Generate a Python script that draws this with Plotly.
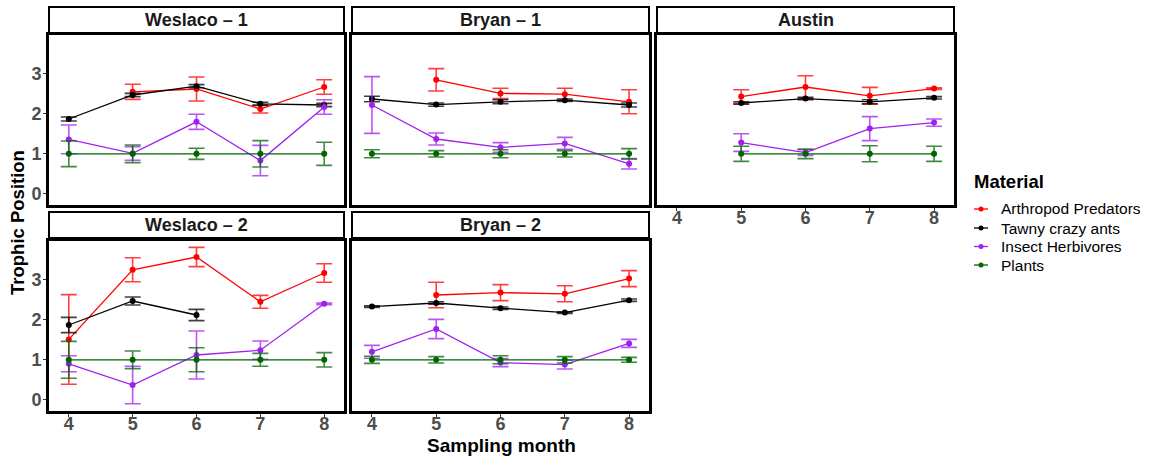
import plotly.graph_objects as go

# ---- data -----------------------------------------------------------------
months = [4, 5, 6, 7, 8]
sites = ["Weslaco – 1", "Bryan – 1", "Austin", "Weslaco – 2", "Bryan – 2"]
materials = ["Arthropod Predators", "Tawny crazy ants", "Insect Herbivores", "Plants"]

# trophic position means per site / material (None = not sampled)
predators_mean = {
    "Weslaco – 1": [None, 2.55, 2.62, 2.12, 2.67],
    "Bryan – 1":   [None, 2.85, 2.51, 2.49, 2.30],
    "Austin":      [None, 2.43, 2.67, 2.45, 2.63],
    "Weslaco – 2": [1.51, 3.25, 3.57, 2.45, 3.17],
    "Bryan – 2":   [None, 2.62, 2.68, 2.65, 3.03],
}
predators_err = {
    "Weslaco – 1": [None, 0.19, 0.30, 0.10, 0.18],
    "Bryan – 1":   [None, 0.28, 0.13, 0.15, 0.30],
    "Austin":      [None, 0.17, 0.28, 0.21, 0.02],
    "Weslaco – 2": [1.12, 0.30, 0.24, 0.16, 0.23],
    "Bryan – 2":   [None, 0.32, 0.20, 0.20, 0.20],
}
ants_mean = {
    "Weslaco – 1": [1.87, 2.47, 2.69, 2.25, 2.22],
    "Bryan – 1":   [2.37, 2.23, 2.30, 2.34, 2.22],
    "Austin":      [None, 2.27, 2.38, 2.30, 2.40],
    "Weslaco – 2": [1.87, 2.47, 2.12, None, None],
    "Bryan – 2":   [2.33, 2.42, 2.29, 2.18, 2.49],
}
ants_err = {
    "Weslaco – 1": [0.05, 0.04, 0.04, 0.04, 0.04],
    "Bryan – 1":   [0.07, 0.04, 0.05, 0.03, 0.05],
    "Austin":      [None, 0.03, 0.03, 0.05, 0.03],
    "Weslaco – 2": [0.19, 0.10, 0.14, None, None],
    "Bryan – 2":   [0.02, 0.03, 0.03, 0.02, 0.03],
}
herbivores_mean = {
    "Weslaco – 1": [1.36, 1.01, 1.80, 0.83, 2.17],
    "Bryan – 1":   [2.22, 1.37, 1.16, 1.26, 0.75],
    "Austin":      [None, 1.28, 1.03, 1.63, 1.78],
    "Weslaco – 2": [0.90, 0.37, 1.12, 1.24, 2.40],
    "Bryan – 2":   [1.20, 1.77, 0.93, 0.88, 1.41],
}
herbivores_err = {
    "Weslaco – 1": [0.36, 0.17, 0.19, 0.38, 0.18],
    "Bryan – 1":   [0.71, 0.15, 0.12, 0.15, 0.13],
    "Austin":      [None, 0.22, 0.07, 0.30, 0.09],
    "Weslaco – 2": [0.20, 0.47, 0.60, 0.23, 0.02],
    "Bryan – 2":   [0.16, 0.24, 0.10, 0.11, 0.10],
}
plants_mean = {
    "Weslaco – 1": [1.0, 1.0, 1.0, 1.0, 1.0],
    "Bryan – 1":   [1.0, 1.0, 1.0, 1.0, 1.0],
    "Austin":      [None, 1.0, 1.0, 1.0, 1.0],
    "Weslaco – 2": [1.0, 1.0, 1.0, 1.0, 1.0],
    "Bryan – 2":   [1.0, 1.0, 1.0, 1.0, 1.0],
}
plants_err = {
    "Weslaco – 1": [0.32, 0.22, 0.14, 0.33, 0.29],
    "Bryan – 1":   [0.10, 0.08, 0.10, 0.08, 0.13],
    "Austin":      [None, 0.19, 0.12, 0.20, 0.19],
    "Weslaco – 2": [0.46, 0.22, 0.30, 0.16, 0.18],
    "Bryan – 2":   [0.09, 0.08, 0.10, 0.08, 0.06],
}

y_ticks = [0, 1, 2, 3]

# ---- styling --------------------------------------------------------------
W, H = 1152, 460
colors = {
    "Arthropod Predators": "#FF0000",
    "Tawny crazy ants": "#000000",
    "Insect Herbivores": "#A020F0",
    "Plants": "#006400",
}
err_colors = {
    "Arthropod Predators": "rgba(255,0,0,0.75)",
    "Tawny crazy ants": "rgba(0,0,0,0.75)",
    "Insect Herbivores": "rgba(160,32,240,0.75)",
    "Plants": "rgba(0,100,0,0.75)",
}
means = {
    "Arthropod Predators": predators_mean,
    "Tawny crazy ants": ants_mean,
    "Insect Herbivores": herbivores_mean,
    "Plants": plants_mean,
}
errs = {
    "Arthropod Predators": predators_err,
    "Tawny crazy ants": ants_err,
    "Insect Herbivores": herbivores_err,
    "Plants": plants_err,
}

FONT = "Liberation Sans, Arial, Helvetica, sans-serif"


def fx(px):
    return px / W


def fy(py):
    return 1 - py / H


# panel pixel boxes (left, right, top, bottom)
cols = [(49, 344), (352, 649), (657, 954)]
rows = [(35, 205), (241, 411)]
strip_rows = [(7, 33), (212, 238)]
panel_pos = [(0, 0), (0, 1), (0, 2), (1, 0), (1, 1)]

fig = go.Figure()
shapes = []
annotations = []

tickfont = dict(family=FONT, size=18, color="#4d4d4d", weight="bold")

for i, site in enumerate(sites):
    r, c = panel_pos[i]
    ax = "" if i == 0 else str(i + 1)
    for m in materials:
        fig.add_trace(go.Scatter(
            x=months,
            y=means[m][site],
            error_y=dict(type="data", array=errs[m][site], visible=True,
                         color=err_colors[m], thickness=1.6, width=8),
            mode="lines+markers",
            line=dict(color=colors[m], width=1.3),
            marker=dict(color=colors[m], size=6),
            name=m,
            showlegend=False,
            connectgaps=False,
            xaxis="x" + ax,
            yaxis="y" + ax,
            cliponaxis=False,
        ))

    left, right = cols[c]
    top, bottom = rows[r]
    show_x = (r == 1) or (i == 2)
    show_y = (c == 0)
    fig.layout["xaxis" + ax] = dict(
        domain=[fx(left), fx(right)], anchor="y" + ax,
        range=[3.69, 8.31], tickvals=months,
        showticklabels=show_x, ticks="outside" if show_x else "",
        ticklen=3, tickwidth=1, tickcolor="#333333",
        ticklabelstandoff=-9,
        tickfont=tickfont, automargin=False,
        showgrid=False, zeroline=False,
        showline=True, mirror=True, linecolor="black", linewidth=3,
    )
    fig.layout["yaxis" + ax] = dict(
        domain=[fy(bottom), fy(top)], anchor="x" + ax,
        range=[-0.28, 3.97], tickvals=y_ticks,
        showticklabels=show_y, ticks="outside" if show_y else "",
        ticklen=3, tickwidth=1, tickcolor="#333333",
        ticklabelstandoff=-2,
        tickfont=tickfont, automargin=False,
        showgrid=False, zeroline=False,
        showline=True, mirror=True, linecolor="black", linewidth=3,
    )

    # facet strip
    s_top, s_bot = strip_rows[r]
    shapes.append(dict(type="rect", xref="paper", yref="paper",
                       x0=fx(left), x1=fx(right), y0=fy(s_bot), y1=fy(s_top),
                       fillcolor="white", line=dict(color="black", width=2)))
    annotations.append(dict(text=site, xref="paper", yref="paper",
                            x=fx((left + right) / 2), y=fy((s_top + s_bot) / 2),
                            xanchor="center", yanchor="middle", showarrow=False,
                            font=dict(family=FONT, size=18, color="#1a1a1a",
                                      weight="bold")))

annotations.append(dict(text="Trophic Position", xref="paper", yref="paper",
                        x=fx(17), y=fy(223), textangle=-90, showarrow=False,
                        xanchor="center", yanchor="middle",
                        font=dict(family=FONT, size=18.5, color="black",
                                  weight="bold")))
annotations.append(dict(text="Sampling month", xref="paper", yref="paper",
                        x=fx(501), y=fy(445), showarrow=False,
                        xanchor="center", yanchor="middle",
                        font=dict(family=FONT, size=19, color="black",
                                  weight="bold")))

# legend: "Material" key drawn beside the panels
annotations.append(dict(text="Material", xref="paper", yref="paper",
                        x=fx(972), y=fy(182), showarrow=False,
                        xanchor="left", yanchor="middle",
                        font=dict(family=FONT, size=18.5, color="black",
                                  weight="bold")))
legend_y = [209, 228, 246.5, 265]
for m, ly in zip(materials, legend_y):
    shapes.append(dict(type="line", xref="paper", yref="paper",
                       x0=fx(974), x1=fx(988), y0=fy(ly), y1=fy(ly),
                       line=dict(color=colors[m], width=1.3)))
    shapes.append(dict(type="circle", xref="paper", yref="paper",
                       x0=fx(978.5), x1=fx(983.5), y0=fy(ly + 2.5),
                       y1=fy(ly - 2.5), fillcolor=colors[m],
                       line=dict(color=colors[m], width=0)))
    annotations.append(dict(text=m, xref="paper", yref="paper",
                            x=fx(999), y=fy(ly), showarrow=False,
                            xanchor="left", yanchor="middle",
                            font=dict(family=FONT, size=15.5, color="black")))

fig.update_layout(
    width=W, height=H,
    margin=dict(l=0, r=0, t=0, b=0),
    paper_bgcolor="white", plot_bgcolor="white",
    shapes=shapes, annotations=annotations,
    showlegend=False,
)

fig.write_html("out.html")
